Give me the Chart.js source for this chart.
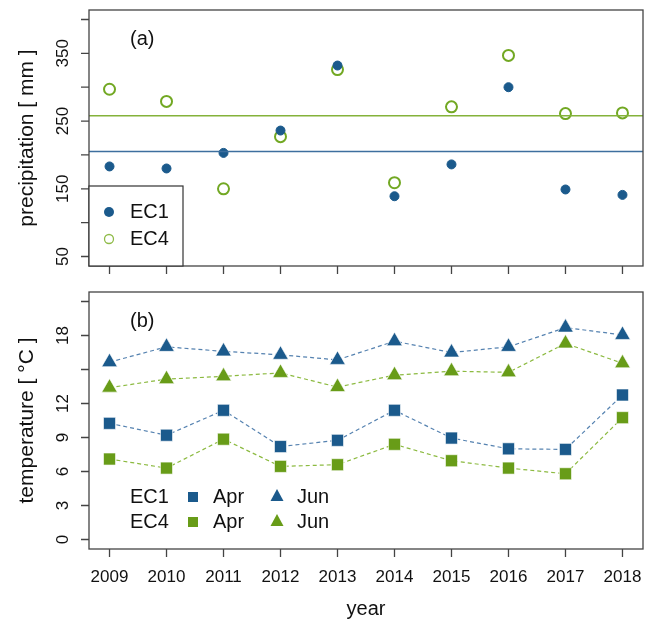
<!DOCTYPE html>
<html>
<head>
<meta charset="utf-8">
<script src="https://cdn.jsdelivr.net/npm/chart.js@4.4.0/dist/chart.umd.min.js"></script>
<style>
  body { margin: 0; background: #fff; }
  canvas { position: absolute; left: 0; }
</style>
</head>
<body>
<canvas id="precipChart" width="654" height="280" style="top:0"></canvas>
<canvas id="tempChart" width="654" height="342" style="top:280px"></canvas>
<script>
// Data
const years = [2009, 2010, 2011, 2012, 2013, 2014, 2015, 2016, 2017, 2018];

// (a) precipitation [mm]
const precipEC1 = [183, 180, 203, 236, 332, 139, 186, 300, 149, 141];
const precipEC4 = [297, 279, 150, 227, 326, 159, 271, 347, 261, 262];
const precipTicks = [50, 100, 150, 200, 250, 300, 350, 400];
const precipLabels = [50, 150, 250, 350];

// (b) temperature [°C]
const aprEC1 = [10.25, 9.2, 11.4, 8.2, 8.75, 11.4, 8.95, 8.0, 7.95, 12.75];
const aprEC4 = [7.1, 6.3, 8.85, 6.45, 6.6, 8.4, 6.95, 6.3, 5.8, 10.75];
const junEC1 = [15.65, 17.0, 16.6, 16.3, 15.85, 17.5, 16.5, 17.0, 18.7, 18.05];
const junEC4 = [13.4, 14.15, 14.4, 14.7, 13.45, 14.5, 14.85, 14.75, 17.3, 15.55];
const tempTicks = [0, 3, 6, 9, 12, 15, 18, 21];
const tempLabels = [0, 3, 6, 9, 12, 18];

const blue = '#1b5a8c';
const green = '#689c18';
const font = "'Liberation Sans', Arial, sans-serif";
const xMin = 2008.64, xMax = 2018.36;

const mean = arr => arr.reduce((s, v) => s + v, 0) / arr.length;
const pts = arr => arr.map((v, i) => ({ x: years[i], y: v }));

// draws box, ticks, labels and legends the way base R does
function framePlugin(o) {
    return {
        id: 'frame',
        afterDraw(chart) {
            const { ctx, chartArea: a, scales: { x, y } } = chart;
            ctx.save();
            ctx.strokeStyle = '#444';
            ctx.lineWidth = 1.3;
            ctx.strokeRect(a.left, a.top, a.right - a.left, a.bottom - a.top);

            ctx.beginPath();
            years.forEach(v => {
                const px = x.getPixelForValue(v);
                ctx.moveTo(px, a.bottom);
                ctx.lineTo(px, a.bottom + 8);
            });
            o.ticks.forEach(v => {
                const py = y.getPixelForValue(v);
                ctx.moveTo(a.left, py);
                ctx.lineTo(a.left - 8, py);
            });
            ctx.stroke();

            ctx.fillStyle = '#111';
            // rotated y tick labels
            ctx.font = '17px ' + font;
            ctx.textAlign = 'center';
            ctx.textBaseline = 'alphabetic';
            o.labels.forEach(v => {
                ctx.save();
                ctx.translate(a.left - 21, y.getPixelForValue(v));
                ctx.rotate(-Math.PI / 2);
                ctx.fillText(String(v), 0, 0);
                ctx.restore();
            });

            // y title
            ctx.save();
            ctx.font = '21px ' + font;
            ctx.textBaseline = 'middle';
            ctx.translate(27, (a.top + a.bottom) / 2);
            ctx.rotate(-Math.PI / 2);
            ctx.fillText(o.title, 0, 0);
            ctx.restore();

            // panel label
            ctx.font = '20px ' + font;
            ctx.textAlign = 'left';
            ctx.textBaseline = 'middle';
            ctx.fillText(o.panel, 130, a.top + 29);

            if (o.xLabels) {
                ctx.font = '17px ' + font;
                ctx.textAlign = 'center';
                years.forEach(v => ctx.fillText(String(v), x.getPixelForValue(v), a.bottom + 28));
                ctx.font = '20px ' + font;
                ctx.fillText('year', (a.left + a.right) / 2, a.bottom + 60);
            }
            o.legend(ctx, a);
            ctx.restore();
        }
    };
}

function legendA(ctx, a) {
    ctx.fillStyle = '#fff';
    ctx.fillRect(a.left, a.bottom - 80, 94, 80);
    ctx.strokeStyle = '#333';
    ctx.lineWidth = 1.2;
    ctx.strokeRect(a.left, a.bottom - 80, 94, 80);
    ctx.fillStyle = blue;
    ctx.beginPath();
    ctx.arc(a.left + 20, a.bottom - 54, 5, 0, Math.PI * 2);
    ctx.fill();
    ctx.strokeStyle = '#8fbb48';
    ctx.lineWidth = 1.3;
    ctx.beginPath();
    ctx.arc(a.left + 20, a.bottom - 27, 4.5, 0, Math.PI * 2);
    ctx.stroke();
    ctx.fillStyle = '#111';
    ctx.font = '20px ' + font;
    ctx.textAlign = 'left';
    ctx.textBaseline = 'middle';
    ctx.fillText('EC1', a.left + 41, a.bottom - 54);
    ctx.fillText('EC4', a.left + 41, a.bottom - 27);
}

function legendB(ctx, a) {
    const rows = [['EC1', blue, a.bottom - 52], ['EC4', green, a.bottom - 27]];
    ctx.font = '20px ' + font;
    ctx.textAlign = 'left';
    ctx.textBaseline = 'middle';
    rows.forEach(([name, col, yy]) => {
        ctx.fillStyle = '#111';
        ctx.fillText(name, 130, yy);
        ctx.fillText('Apr', 213, yy);
        ctx.fillText('Jun', 297, yy);
        ctx.fillStyle = col;
        ctx.fillRect(188, yy - 5, 10, 10);
        ctx.beginPath();
        ctx.moveTo(277, yy - 8);
        ctx.lineTo(283.5, yy + 4);
        ctx.lineTo(270.5, yy + 4);
        ctx.closePath();
        ctx.fill();
    });
}

const xScale = { type: 'linear', min: xMin, max: xMax, display: false };
const common = {
    responsive: false,
    animation: false,
    plugins: { legend: { display: false }, tooltip: { enabled: false } }
};

new Chart(document.getElementById('precipChart'), {
    type: 'scatter',
    data: {
        datasets: [
            {
                type: 'line',
                data: [{ x: xMin, y: mean(precipEC4) }, { x: xMax, y: mean(precipEC4) }],
                borderColor: '#84b23a', borderWidth: 1.5, pointRadius: 0
            },
            {
                type: 'line',
                data: [{ x: xMin, y: mean(precipEC1) }, { x: xMax, y: mean(precipEC1) }],
                borderColor: '#3d6f9e', borderWidth: 1.5, pointRadius: 0
            },
            {
                label: 'EC1',
                data: pts(precipEC1),
                pointStyle: 'circle', pointRadius: 4.5,
                backgroundColor: blue, borderColor: blue, borderWidth: 1
            },
            {
                label: 'EC4',
                data: pts(precipEC4),
                pointStyle: 'circle', pointRadius: 5.5,
                backgroundColor: 'rgba(0,0,0,0)', borderColor: '#72a823', borderWidth: 2
            }
        ]
    },
    options: {
        ...common,
        layout: { padding: { left: 89, right: 11, top: 10, bottom: 14 } },
        scales: { x: xScale, y: { type: 'linear', min: 36, max: 414, display: false } }
    },
    plugins: [framePlugin({
        ticks: precipTicks, labels: precipLabels,
        title: 'precipitation [ mm ]', panel: '(a)', xLabels: false, legend: legendA
    })]
});

function tempSet(arr, col, lineCol, style, r) {
    return {
        type: 'line',
        data: pts(arr),
        borderColor: lineCol, borderWidth: 1.2, borderDash: [4, 3],
        pointStyle: style, pointRadius: r,
        pointBackgroundColor: col, pointBorderColor: 'rgba(255,255,255,0.6)', pointBorderWidth: 1
    };
}

new Chart(document.getElementById('tempChart'), {
    type: 'line',
    data: {
        datasets: [
            tempSet(junEC1, blue, '#5582b0', 'triangle', 9),
            tempSet(junEC4, green, '#8cba40', 'triangle', 9),
            tempSet(aprEC1, blue, '#5582b0', 'rect', 8.5),
            tempSet(aprEC4, green, '#8cba40', 'rect', 8.5)
        ]
    },
    options: {
        ...common,
        layout: { padding: { left: 89, right: 11, top: 12, bottom: 73 } },
        scales: { x: xScale, y: { type: 'linear', min: -0.84, max: 21.84, display: false } }
    },
    plugins: [framePlugin({
        ticks: tempTicks, labels: tempLabels,
        title: 'temperature [ °C ]', panel: '(b)', xLabels: true, legend: legendB
    })]
});
</script>
</body>
</html>
